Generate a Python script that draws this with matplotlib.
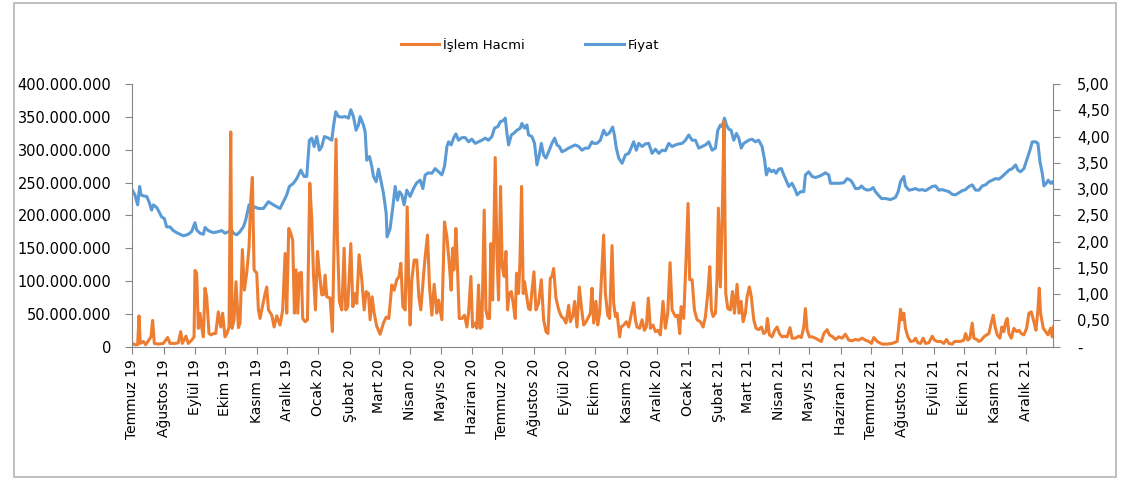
import datetime
import matplotlib
matplotlib.use('Agg')
import matplotlib.pyplot as plt
import matplotlib.dates as mdates
from matplotlib.patches import Rectangle
from matplotlib.ticker import FuncFormatter, MultipleLocator

# days counted from 1 July 2019
price_day = [
    0.0, 2.6, 5.3, 7.3, 8.6, 10.9, 14.2, 16.5, 19.1, 20.8, 24.1, 26.4, 29.0, 31.7, 34.0, 37.3,
    40.6, 43.9, 47.2, 50.5, 55.4, 58.7, 62.0, 63.7, 67.0, 70.3, 72.0, 75.2, 80.2, 85.1, 88.4,
    91.7, 95.7, 97.7, 100.0, 103.3, 106.6, 109.9, 112.2, 115.5, 118.2, 121.5, 124.8, 129.7,
    134.7, 139.6,
    146.2, 149.5, 152.8, 155.4, 159.4, 162.7, 166.7, 170.0, 172.6, 175.2, 177.6, 179.9, 182.5,
    185.1, 187.5, 190.1, 194.1, 197.4, 199.0, 201.3, 204.0, 207.3, 210.6, 213.9, 216.2, 218.8,
    221.4, 223.8, 225.4, 228.7, 230.4, 232.0, 234.7, 237.0, 238.6, 241.3, 243.6, 245.9, 248.5,
    251.2, 252.1, 255.1, 257.8, 260.1, 262.4, 264.4, 266.7, 269.0, 271.6, 274.9, 278.2, 281.5,
    284.8, 287.5, 289.8, 293.1, 296.4, 299.7,
    303.0, 306.3, 308.9, 311.3, 312.9, 315.5, 317.9, 320.2, 322.8, 326.1, 329.4, 332.7, 336.0,
    339.3, 342.6, 345.9, 349.2, 352.5, 355.8, 358.4, 361.7, 364.1, 367.4, 369.0, 370.7, 372.3,
    375.0, 377.3, 380.6, 383.9, 385.5, 388.2, 390.5, 392.1, 395.4, 398.0, 400.4, 402.7, 404.7,
    407.0, 409.3, 411.9, 415.2, 417.9, 420.2, 422.5, 425.1, 428.4, 431.7, 435.0, 438.3, 441.6,
    444.9, 448.2, 451.5, 454.8,
    456.5, 459.8, 463.1, 466.4, 469.0, 471.7, 475.3, 477.0, 478.9, 481.3, 484.6, 487.9, 491.2,
    493.5, 496.1, 498.7, 501.1, 504.4, 507.7, 511.0, 514.3, 517.6, 520.9, 524.2, 527.5, 530.8,
    534.1, 537.4, 540.7, 544.0, 547.3, 550.6, 553.9, 557.2, 560.5, 563.8, 567.1, 570.4, 573.7,
    577.0, 579.3, 581.9, 583.6, 585.9, 587.9, 590.2, 592.5, 595.1, 597.8, 600.1, 602.5, 605.0,
    609.9, 613.2, 616.5, 619.8, 623.1, 625.7, 627.4, 629.7, 632.3, 634.7, 637.0, 639.6, 642.2,
    644.6, 646.9, 649.5, 652.8, 656.1, 657.8, 661.1, 664.4, 666.0, 669.3, 672.6, 675.9, 679.2,
    682.5, 685.8, 689.1, 690.8, 694.1, 699.0, 704.0, 707.3, 710.6, 712.9, 715.5, 718.8, 721.5,
    723.8, 727.1, 730.4, 733.0, 735.3, 738.0, 741.3, 745.2, 750.2, 755.1, 757.8, 760.1,
    763.4, 765.0, 768.4, 771.7, 775.0, 778.3, 781.6, 784.9, 788.2, 791.5, 794.8, 798.1, 801.4,
    804.7, 808.0, 811.3, 814.6, 817.9, 821.2, 824.5, 827.8, 831.1, 834.4, 837.7, 841.0, 844.3,
    847.6, 850.9, 854.2, 857.5, 860.8, 864.1, 867.4, 870.7, 874.0, 876.3, 878.9, 882.2, 885.5,
    888.2, 890.5, 893.8, 896.1, 898.1, 900.4, 902.0, 904.3, 906.3, 908.6, 910.3, 911.3,
]
price = [
    2.98, 2.89, 2.70, 3.05, 2.89, 2.87, 2.86, 2.76, 2.60, 2.70, 2.65, 2.57, 2.47, 2.44, 2.28, 2.28,
    2.21, 2.17, 2.14, 2.11, 2.14, 2.19, 2.36, 2.22, 2.16, 2.14, 2.27, 2.21, 2.17, 2.19, 2.21,
    2.16, 2.19, 2.23, 2.16, 2.13, 2.19, 2.28, 2.41, 2.70, 2.60, 2.66, 2.63, 2.63,
    2.76, 2.70,
    2.63, 2.76, 2.89, 3.05, 3.11, 3.20, 3.36, 3.24, 3.24, 3.93, 3.97, 3.81, 4.00,
    3.74, 3.81, 4.00, 3.97, 3.93, 4.19, 4.47, 4.38, 4.37, 4.38, 4.35, 4.51, 4.38,
    4.12, 4.22, 4.38, 4.22, 4.09, 3.55, 3.62, 3.43, 3.24, 3.14, 3.38, 3.17, 2.92,
    2.54, 2.09, 2.25, 2.66, 3.05, 2.79, 2.95, 2.89, 2.70, 2.98, 2.86, 3.01, 3.12,
    3.17, 3.01, 3.27, 3.31, 3.30, 3.39,
    3.33, 3.27, 3.43, 3.81, 3.90, 3.84, 3.97, 4.05, 3.93, 3.98, 3.98, 3.90, 3.95,
    3.87, 3.90, 3.93, 3.97, 3.93, 4.00, 4.16, 4.19, 4.28, 4.31, 4.35, 4.06, 3.84,
    4.03, 4.06, 4.12, 4.16, 4.25, 4.16, 4.22, 4.03, 4.00, 3.87, 3.46, 3.65, 3.87,
    3.65, 3.59, 3.71, 3.87, 3.97, 3.84, 3.81, 3.71, 3.74, 3.78, 3.81, 3.84, 3.81,
    3.74, 3.78, 3.78, 3.90,
    3.87, 3.87, 3.93, 4.12, 4.03, 4.06, 4.18, 4.03, 3.78, 3.59, 3.49, 3.65, 3.68,
    3.78, 3.90, 3.74, 3.87, 3.81, 3.86, 3.87, 3.68, 3.76, 3.68, 3.74, 3.73, 3.87,
    3.81, 3.84, 3.86, 3.87, 3.93, 4.03, 3.93, 3.93, 3.78, 3.81, 3.84, 3.90, 3.74,
    3.78, 4.12, 4.22, 4.19, 4.35, 4.22, 4.14, 4.12, 3.93, 4.06, 3.97, 3.78, 3.87,
    3.93, 3.95, 3.90, 3.93, 3.81, 3.55, 3.27, 3.39, 3.33, 3.36, 3.30, 3.38, 3.39,
    3.27, 3.17, 3.05, 3.11, 2.98, 2.89, 2.95, 2.95, 3.27, 3.33, 3.24, 3.22, 3.24,
    3.27, 3.31, 3.27, 3.11, 3.11, 3.11, 3.12, 3.20, 3.17, 3.11, 3.01, 3.01, 3.06,
    3.01, 2.98, 2.99, 3.03, 2.95, 2.89, 2.82, 2.82, 2.80, 2.84, 2.95, 3.14,
    3.24, 3.06, 2.98, 2.99, 3.01, 2.98, 2.99, 2.97, 3.01, 3.05, 3.06, 2.98, 2.99,
    2.97, 2.95, 2.90, 2.89, 2.93, 2.97, 2.99, 3.05, 3.08, 2.98, 2.98, 3.06, 3.08,
    3.14, 3.17, 3.20, 3.19, 3.24, 3.30, 3.36, 3.39, 3.46, 3.36, 3.33, 3.39, 3.58,
    3.74, 3.90, 3.90, 3.87, 3.52, 3.30, 3.06, 3.11, 3.17, 3.11, 3.14, 3.11,
]

vol_day = [
    0.0, 2.6, 5.3, 6.6, 7.9, 10.9, 13.2, 15.8, 18.5, 20.1, 21.8, 25.7, 30.7, 35.0, 37.3, 42.2,
    45.5, 47.9, 49.5, 53.1, 55.4, 58.7, 61.1, 62.0, 63.7, 65.3, 67.0, 68.6, 70.3, 71.9, 73.6,
    75.9, 77.9, 80.2, 82.5, 85.1, 87.5, 89.4, 91.7, 93.7, 95.7, 97.4, 98.7, 100.7, 102.6, 105.0,
    106.6, 108.9, 110.9, 113.2, 115.5, 117.2, 118.8, 120.5, 123.1, 124.8, 126.4, 128.7, 130.7,
    133.0, 134.7, 138.0, 140.3, 142.9,
    146.2, 148.8, 151.2, 152.8, 154.8, 156.8, 158.7, 160.4, 162.0, 163.7, 165.3, 167.3, 168.6,
    171.0, 173.3, 175.6, 177.6, 179.2, 181.2, 183.2, 185.1, 187.5, 189.1, 190.8, 192.4, 195.7,
    198.0, 201.6, 203.0, 204.9, 207.3, 209.6, 211.2, 213.2, 216.2, 218.2, 220.5, 222.1, 224.4,
    227.1, 229.4, 231.4, 233.7, 235.3, 237.3, 239.3, 241.9, 245.2, 248.5, 251.2, 253.8, 256.8,
    259.1, 261.7, 264.0, 265.7, 267.7, 270.0, 272.0, 273.6, 274.9, 276.6, 278.9, 281.5, 283.5,
    285.5, 288.1, 289.8, 292.1, 294.1, 296.4, 298.7,
    301.3, 303.0, 306.3, 308.9, 311.3, 313.6, 315.5, 316.9, 318.2, 320.2, 321.5, 323.5, 326.1,
    328.7, 331.1, 332.7, 335.0, 336.7, 339.3, 340.9, 342.6, 344.3, 345.9, 348.2, 349.9, 351.8,
    353.5, 354.8, 356.5, 359.1, 360.8, 362.4, 364.4, 366.0, 368.0, 369.7, 371.3, 373.0, 375.0,
    376.6, 378.9, 380.2, 382.2, 383.5, 385.2, 386.8, 388.1, 389.8, 392.1, 393.8, 395.4, 397.4,
    399.4, 402.0, 404.7, 407.0, 409.3, 411.3, 413.6, 415.2, 416.9, 419.2, 421.9, 424.5, 426.8,
    429.1, 431.8, 433.4, 435.7, 437.7, 440.0, 442.3, 444.3, 446.6, 449.0, 451.6,
    453.2, 454.9, 456.5, 458.8, 460.5, 462.4, 464.8, 466.4, 468.1, 470.4, 472.3, 474.7, 476.3,
    478.0, 479.6, 482.2, 483.6, 486.2, 488.8, 491.2, 493.5, 496.1, 497.8, 499.4, 502.0, 504.4,
    506.7, 508.6, 510.6, 512.6, 515.2, 517.6, 519.9, 522.5, 525.1, 527.5, 529.8, 532.1, 534.1,
    537.4, 539.7, 541.7, 543.0, 545.6, 547.9, 549.9, 551.5, 553.9, 556.2, 558.8, 562.1, 564.8,
    567.1, 569.4, 571.4, 573.0, 574.7, 577.0, 578.6, 579.9, 581.9, 583.6, 585.5, 587.2, 589.2,
    591.8, 593.8, 595.8, 598.4, 600.4, 602.4, 604.4,
    606.6, 608.3, 610.6, 612.5, 614.9, 617.2, 619.8, 622.4, 624.8, 627.1, 628.4, 630.4, 633.0,
    635.6, 638.0, 640.3, 642.9, 645.5, 647.9, 650.8, 652.8, 656.1, 659.4, 662.0, 664.4, 666.0,
    667.7, 670.0, 672.6, 675.9, 679.2, 681.8, 684.2, 687.5, 689.8, 693.1, 695.7, 699.0, 702.3,
    705.6, 708.9, 712.2, 715.5, 718.8, 722.1, 725.4, 728.7, 731.4, 733.7, 737.0, 741.9, 746.9,
    751.8, 756.8, 758.4, 760.1,
    761.7, 763.4, 765.0, 767.4, 770.0, 773.3, 775.0, 777.3, 779.9, 782.5, 784.9, 788.2, 791.5,
    793.8, 796.4, 799.7, 803.0, 805.6, 808.0, 811.3, 813.6, 816.2, 819.5, 822.8, 824.5, 826.8,
    828.8, 831.1, 832.7, 835.4, 837.7, 840.0, 842.6, 845.3, 847.6, 849.9, 851.9, 853.8, 855.8,
    858.5, 860.4, 862.4, 864.1, 865.7, 867.4, 869.7, 872.3, 875.0, 877.3, 879.6, 882.2, 884.9,
    887.2, 889.5, 892.1, 894.1, 896.1, 897.4, 898.7, 901.4, 903.7, 906.0, 908.6, 910.3, 911.3,
]
# trading volume, millions
volume = [
    5, 3, 3, 47, 5, 8, 3, 9, 15, 40, 5, 4, 5, 14, 5, 5,
    6, 23, 5, 16, 5, 10, 15, 116, 112, 28, 51, 30, 15, 89, 76,
    20, 18, 20, 20, 53, 30, 51, 15, 20, 30, 327, 28, 41, 99, 29,
    36, 148, 86, 112, 152, 223, 258, 117, 112, 56, 43, 61, 76,
    91, 56, 48, 30, 47,
    33, 56, 142, 51, 180, 173, 162, 51, 117, 51, 112, 113, 43,
    38, 41, 249, 193, 112, 56, 145, 112, 79, 79, 109, 76, 74,
    23, 316, 162, 69, 56, 150, 56, 61, 157, 61, 81, 66, 140,
    102, 56, 84, 81, 41, 76, 51, 31, 19, 36, 45, 43, 94,
    86, 102, 107, 127, 61, 56, 213, 91, 33, 102, 132, 132, 76,
    56, 107, 137, 170, 91, 48, 95,
    51, 71, 41, 190, 167, 127, 86, 150, 117, 180, 132, 43, 43,
    48, 30, 51, 107, 30, 36, 28, 94, 28, 30, 208, 56, 43,
    43, 157, 71, 288, 142, 71, 244, 122, 107, 145, 56, 81, 84,
    69, 43, 112, 81, 127, 244, 81, 99, 81, 58, 56, 84, 114,
    56, 66, 102, 41, 23, 20, 104, 107, 119, 74, 56, 46, 43,
    36, 63, 38, 46, 69, 30, 91, 61, 33, 38, 46,
    51, 89, 36, 69, 33, 51, 122, 170, 81, 48, 43, 154, 66,
    46, 51, 15, 30, 33, 38, 30, 48, 67, 41, 30, 28, 41,
    25, 30, 74, 28, 33, 23, 25, 18, 69, 28, 51, 128, 56,
    46, 48, 20, 61, 43, 132, 218, 102, 102, 56, 41, 38, 30,
    46, 81, 122, 56, 46, 51, 104, 211, 91, 193, 343, 81, 58,
    56, 84, 51, 95, 51, 69, 38,
    51, 76, 91, 76, 41, 28, 26, 30, 20, 23, 43, 18, 15,
    25, 30, 20, 15, 16, 15, 29, 13, 13, 16, 14, 30, 58,
    25, 15, 15, 13, 10, 8, 20, 26, 18, 15, 11, 15, 13,
    19, 10, 9, 11, 10, 13, 10, 8, 5, 14, 8, 4, 4,
    5, 8, 30, 57,
    41, 51, 28, 15, 8, 9, 13, 6, 5, 13, 5, 6, 16,
    10, 8, 8, 5, 11, 5, 4, 8, 8, 8, 10, 20, 10,
    13, 36, 13, 11, 8, 10, 15, 18, 20, 36, 48, 30, 18,
    13, 30, 23, 37, 43, 20, 13, 28, 23, 25, 20, 18, 28,
    51, 53, 38, 25, 56, 89, 51, 28, 23, 18, 28, 15, 30,
]

months_tr = ['Ocak', 'Şubat', 'Mart', 'Nisan', 'Mayıs', 'Haziran', 'Temmuz',
             'Ağustos', 'Eylül', 'Ekim', 'Kasım', 'Aralık']

orange = '#ED7D31'
blue = '#5B9BD5'
gray = '#868686'

plt.rcParams['font.family'] = 'DejaVu Sans'

base = mdates.date2num(datetime.datetime(2019, 7, 1))
xv = [base + d for d in vol_day]
xp = [base + d for d in price_day]

fig = plt.figure(figsize=(11.31, 4.79), dpi=100)
ax = fig.add_axes([0.11698, 0.27620, 0.81432, 0.54843])
ax2 = ax.twinx()
ax.set_zorder(ax2.get_zorder() + 1)
ax.patch.set_visible(False)

l1, = ax.plot(xv, [v * 1e6 for v in volume], color=orange, lw=2.2, label='İşlem Hacmi')
l2, = ax2.plot(xp, price, color=blue, lw=2.2, label='Fiyat')

ax.set_xlim(base, base + 911.3)
ax.set_ylim(0, 400e6)
ax2.set_ylim(0, 5)
ax.yaxis.set_major_locator(MultipleLocator(50e6))
ax2.yaxis.set_major_locator(MultipleLocator(0.5))
ax.yaxis.set_major_formatter(FuncFormatter(lambda v, p: f'{int(round(v)):,}'.replace(',', '.')))
ax2.yaxis.set_major_formatter(FuncFormatter(
    lambda v, p: '-' if abs(v) < 1e-9 else f'{v:.2f}'.replace('.', ',')))

ax.xaxis.set_major_locator(mdates.MonthLocator(bymonthday=1))
ax.xaxis.set_major_formatter(FuncFormatter(
    lambda v, p: f'{months_tr[mdates.num2date(v).month - 1]} {mdates.num2date(v).year % 100}'))
for lab in ax.get_xticklabels():
    pass
ax.tick_params(axis='x', labelrotation=90, length=5, width=0.8, color=gray, pad=4, labelsize=10)
ax.tick_params(axis='y', length=5, width=0.8, color=gray, pad=10, labelsize=10.5)
ax2.tick_params(axis='y', length=5, width=0.8, color=gray, pad=12, labelsize=10.5)

for a in (ax, ax2):
    for s in a.spines.values():
        s.set_visible(False)
ax.spines['left'].set_visible(True)
ax.spines['bottom'].set_visible(True)
ax2.spines['right'].set_visible(True)
for s in (ax.spines['left'], ax.spines['bottom'], ax2.spines['right']):
    s.set_color(gray)
    s.set_linewidth(0.8)

fig.legend(handles=[l1, l2], loc='center', bbox_to_anchor=(0.4686, 0.906), ncol=2,
           frameon=False, fontsize=9.5, handlelength=2.9, handletextpad=0.3,
           columnspacing=4.6)

fig.patches.append(Rectangle((14 / 1131, 2 / 479), 1102 / 1131, 474 / 479,
                             transform=fig.transFigure, fill=False,
                             edgecolor='#b4b4b4', lw=1.2))

fig.savefig('out.png', dpi=100)
